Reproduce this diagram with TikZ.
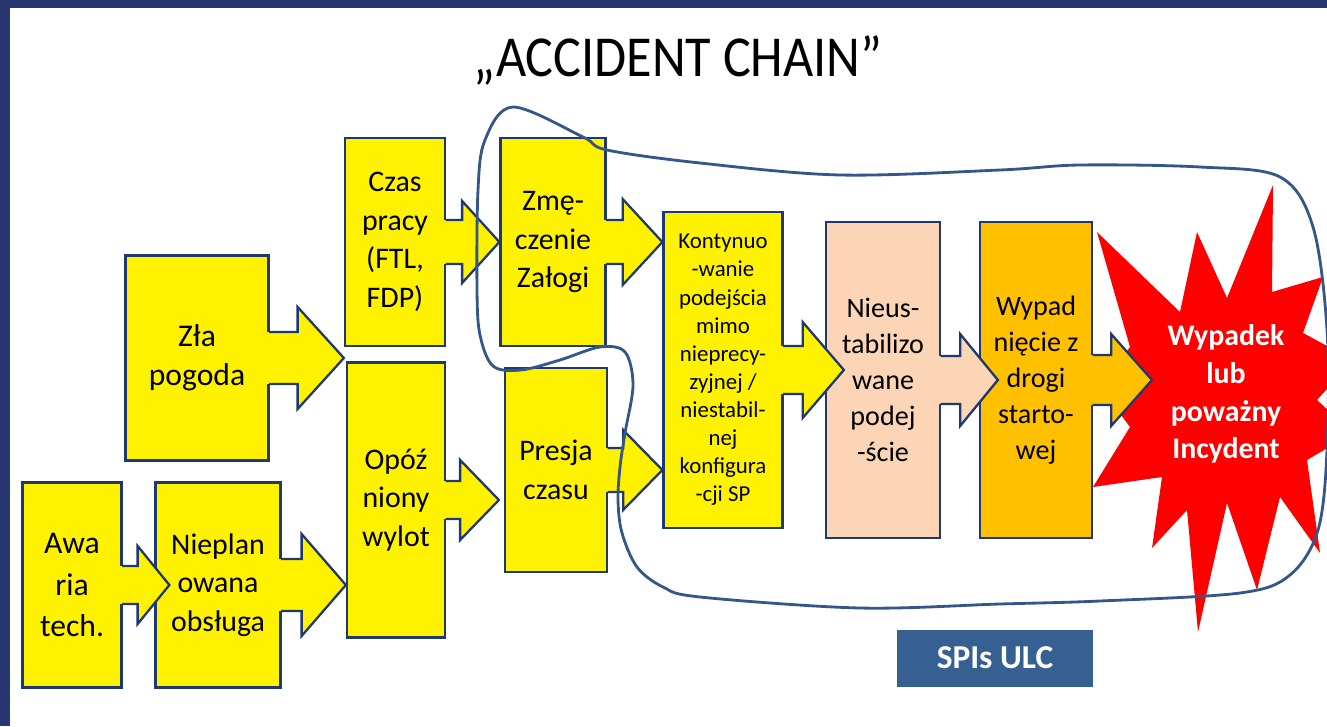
\documentclass[tikz,border=0pt]{standalone}
\usepackage{fontspec}
\setmainfont{Carlito}
\usetikzlibrary{calc}
\definecolor{FrameNavy}{RGB}{41,55,112}
\definecolor{EdgeBlue}{RGB}{31,56,112}
\definecolor{LassoBlue}{RGB}{52,86,136}
\definecolor{Peach}{RGB}{251,213,181}
\definecolor{Amber}{RGB}{255,192,0}
\definecolor{SpiBlue}{RGB}{55,96,146}
\newcommand{\cbox}[3]{
    \node(#1)[
        draw=EdgeBlue,
        line width=1.3pt,
        fill=yellow,
        align=center,
        inner sep=1pt,
        font=\fontsize{17}{22}\selectfont,
        #2
    ]{#3};
}
% box, target, tip offset, shaft length, shaft half, head half, fill
\newcommand{\carrow}[7]{
    \fill[#7] ($(#1.east)+(-4,#5)$) rectangle ($(#1.east)+(2,-#5)$);
    \draw[
        draw=EdgeBlue,
        line width=1.3pt,
        fill=#7
    ] ($(#1.east)+(-0.5,#5)$) -- ($(#1.east)+(#4,#5)$) -- ($(#1.east)+(#4,#6)$)
      -- ($(#1.east -| #2.west)+(#3,0)$)
      -- ($(#1.east)+(#4,-#6)$) -- ($(#1.east)+(#4,-#5)$) -- ($(#1.east)+(-0.5,-#5)$);
}

\begin{document}
\begin{tikzpicture}[x=0.02cm, y=-0.02cm]
	\useasboundingbox[fill=white] (0,0) rectangle (1327,726);
	\fill[FrameNavy] (0,0) rectangle (1327,8);
	\fill[FrameNavy] (0,0) rectangle (10,726);
	
	\node (title) [anchor=base, font=\fontsize{33}{36}\selectfont] at (678,77) {\scalebox{0.9}[1]{„ACCIDENT CHAIN”}};
	
	% red burst
	\fill[red] (1097,232) -- (1180,312) -- (1197,232) -- (1227,298) -- (1273,185) -- (1272,292)
	  -- (1323,277) -- (1303,333) -- (1353,360) -- (1317,400) -- (1353,433) -- (1307,460)
	  -- (1320,553) -- (1280,497) -- (1257,590) -- (1227,503) -- (1198,632) -- (1187,510)
	  -- (1152,548) -- (1162,477) -- (1093,487) -- (1130,427) -- (1100,387) -- (1130,347) -- cycle;
	\coordinate (burst) at (1152,380);
	
	\cbox{wypad}{at={(1036,380)}, minimum width=2.24cm, minimum height=6.32cm, fill=Amber, font=\fontsize{16}{20.5}\selectfont}{Wypad\\nięcie z\\drogi\\starto-\\wej}
	\carrow{wypad}{burst}{0}{18}{25}{46}{Amber}
	
	\cbox{nieus}{at={(883,380)}, minimum width=2.28cm, minimum height=6.32cm, fill=Peach, font=\fontsize{16}{20.5}\selectfont}{Nieus-\\tabilizo\\wane\\podej\\-ście}
	\carrow{nieus}{wypad}{19}{19}{24}{46}{Peach}
	
	\cbox{kont}{at={(723,370)}, minimum width=2.38cm, minimum height=6.32cm, font=\fontsize{13}{16}\selectfont}{Kontynuo\\-wanie\\podejścia\\mimo\\nieprecy-\\zyjnej /\\niestabil-\\nej\\konfigura\\-cji SP}
	\carrow{kont}{nieus}{19}{19}{24}{48}{yellow}
	
	\cbox{presja}{at={(556,470)}, minimum width=2.04cm, minimum height=4.08cm}{Presja\\czasu}
	\carrow{presja}{kont}{0}{15}{22}{40}{yellow}
	
	\cbox{zmecz}{at={(553,242)}, minimum width=2.1cm, minimum height=4.16cm}{Zmę-\\czenie\\Załogi}
	\carrow{zmecz}{kont}{0}{16}{22}{43}{yellow}
	
	\cbox{opoz}{at={(396,500)}, minimum width=1.96cm, minimum height=5.5cm}{Opóź\\niony\\wylot}
	\carrow{opoz}{presja}{-5}{14}{19}{40}{yellow}
	
	\cbox{czas}{at={(395,242)}, minimum width=2cm, minimum height=4.16cm}{Czas\\pracy\\(FTL,\\FDP)}
	\carrow{czas}{zmecz}{0}{16}{22}{41}{yellow}
	
	\cbox{zla}{at={(197,358)}, minimum width=2.86cm, minimum height=4.1cm, font=\fontsize{18}{22}\selectfont}{Zła\\pogoda}
	\carrow{zla}{czas}{0}{28}{26}{51}{yellow}
	
	\cbox{nieplan}{at={(218,585)}, minimum width=2.5cm, minimum height=4.1cm}{Nieplan\\owana\\obsługa}
	\carrow{nieplan}{opoz}{0}{20}{26}{51}{yellow}
	
	\cbox{awaria}{at={(72,585)}, minimum width=1.98cm, minimum height=4.1cm, font=\fontsize{18}{23.5}\selectfont}{Awa\\ria\\tech.}
	\carrow{awaria}{nieplan}{15}{15}{19}{39}{yellow}
	
	\node (outcome) [align=center, text=white, font=\bfseries\fontsize{17}{21.5}\selectfont] at (1226,394) {Wypadek\\lub\\poważny\\Incydent};
	
	\draw[LassoBlue, line width=1.6pt] plot[smooth cycle, tension=0.55] coordinates {
	  (513,107) (583,137) (607,150) (700,163) (840,175) (1000,170) (1080,165) (1200,167)
	  (1280,177) (1313,227) (1327,330) (1327,450) (1318,530) (1290,575) (1240,593) (1100,601)
	  (1000,604) (860,608) (700,597) (663,587) (637,567) (622,533) (618,500) (620,467)
	  (625,433) (633,385) (625,352) (600,347) (560,360) (521,370) (493,366) (480,335)
	  (477,290) (478,190) (485,140)};
	
	\node (spi) [fill=SpiBlue, text=white, minimum width=3.92cm, minimum height=1.14cm, font=\bfseries\fontsize{19}{22}\selectfont] at (995,658) {SPIs ULC};
\end{tikzpicture}
\end{document}
